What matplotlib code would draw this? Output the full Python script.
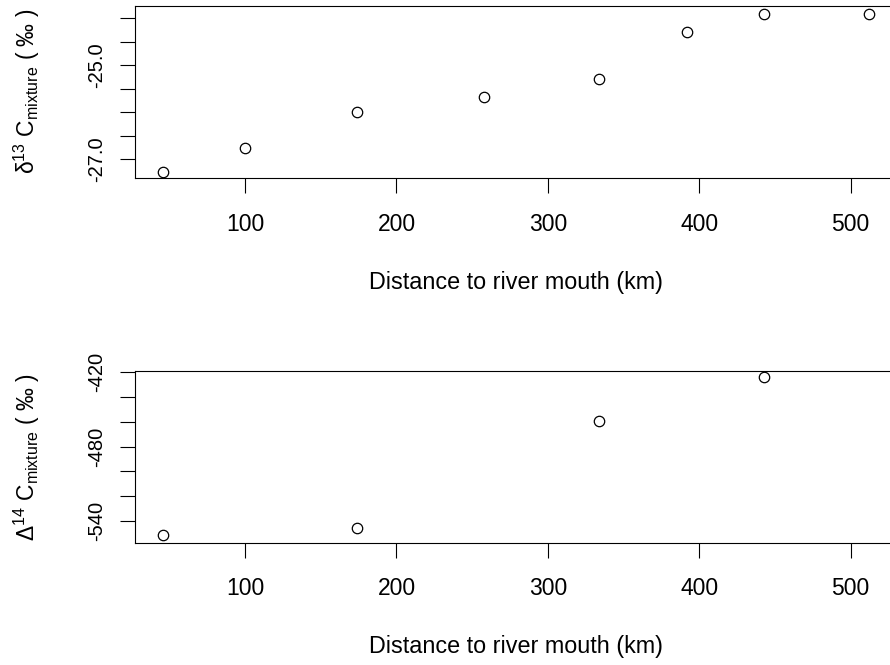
import matplotlib.pyplot as plt

plt.rcParams['font.family'] = ['Liberation Sans', 'DejaVu Sans']
plt.rcParams['mathtext.fontset'] = 'custom'
plt.rcParams['mathtext.rm'] = 'Liberation Sans'
plt.rcParams['mathtext.it'] = 'Liberation Sans:italic'

# delta 13C of the mixture along the river-ocean transect
dist_d13 = [46, 100, 174, 258, 334, 392, 443, 512]
d13c = [-27.28, -26.77, -26.00, -25.68, -25.30, -24.30, -23.91, -23.91]

# Delta 14C, only measured at four stations
dist_D14 = [46, 174, 334, 443]
D14c = [-551.3, -545.7, -459.1, -423.6]

xticks = [100, 200, 300, 400, 500]
d13_ticks = [-27.0, -26.5, -26.0, -25.5, -25.0, -24.5, -24.0]
d13_labels = ["-27.0", "", "", "", "-25.0", "", ""]
D14_ticks = [-540, -520, -500, -480, -460, -440, -420]
D14_labels = ["-540", "", "", "-480", "", "", "-420"]

xlabel = "Distance to river mouth (km)"
ylab_top = r"δ$^{13}$ C$_{\mathrm{mixture}}$ ( ‰ )"
ylab_bot = r"Δ$^{14}$ C$_{\mathrm{mixture}}$ ( ‰ )"

W, H = 890, 665
fig = plt.figure(figsize=(W / 100, H / 100), dpi=100)


def panel(top_px, bot_px, x, y, yticks, ylabels, ylim, ylab):
    left_px, right_px = 135, 897.6
    ax = fig.add_axes([left_px / W, 1 - bot_px / H,
                       (right_px - left_px) / W, (bot_px - top_px) / H])
    ax.plot(x, y, 'o', mfc='none', mec='black', ms=7.5, mew=0.9)
    ax.set_xlim(27.3, 531)
    ax.set_ylim(*ylim)
    ax.set_xticks(xticks)
    ax.set_yticks(yticks)
    ax.set_yticklabels(ylabels, rotation=90, va='center')
    ax.tick_params(length=10.5, width=0.8, colors='black')
    ax.tick_params(axis='x', labelsize=16.5, pad=14.5)
    ax.tick_params(axis='y', labelsize=14.5, pad=10)
    for s in ax.spines.values():
        s.set_linewidth(0.8)
    ax.spines['right'].set_visible(False)
    ax.set_xlabel(xlabel, fontsize=16.8)
    ax.xaxis.set_label_coords(0.5, -0.606)
    ax.xaxis.label.set_va('center')
    ax.set_ylabel(ylab, fontsize=16.5)
    ax.yaxis.set_label_coords(-0.142, 0.5)
    ax.yaxis.label.set_va('center')
    return ax


panel(5.5, 178, dist_d13, d13c, d13_ticks, d13_labels, (-27.40, -23.73), ylab_top)
panel(371, 542.7, dist_D14, D14c, D14_ticks, D14_labels, (-557.8, -418.9), ylab_bot)

fig.savefig("out.png", dpi=100)
